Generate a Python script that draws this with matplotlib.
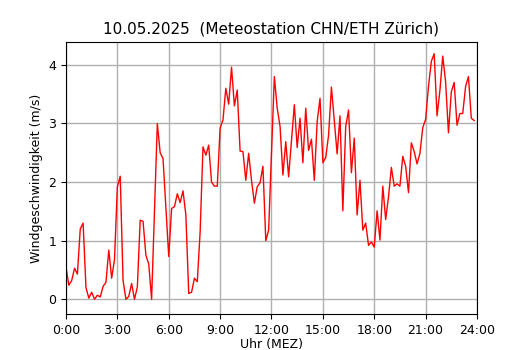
import matplotlib
matplotlib.use('Agg')
import matplotlib.pyplot as plt
import numpy as np

# wind speed (m/s), 10-minute values from 0:00 to 23:50
wind = [
    0.55, 0.24, 0.32, 0.53, 0.43, 1.20, 1.30, 0.20, 0.02, 0.12, 0.00, 0.07,
    0.04, 0.22, 0.29, 0.84, 0.36, 0.68, 1.92, 2.10, 0.32, 0.00, 0.05, 0.27,
    0.00, 0.21, 1.35, 1.33, 0.75, 0.60, 0.00, 1.50, 3.00, 2.50, 2.40, 1.55,
    0.73, 1.55, 1.58, 1.80, 1.65, 1.85, 1.44, 0.10, 0.12, 0.36, 0.30, 1.15,
    2.60, 2.46, 2.63, 2.00, 1.93, 1.93, 2.92, 3.06, 3.60, 3.33, 3.96, 3.30,
    3.57, 2.53, 2.52, 2.03, 2.49, 2.03, 1.64, 1.92, 1.99, 2.27, 1.00, 1.18,
    2.50, 3.80, 3.26, 2.95, 2.12, 2.69, 2.09, 2.70, 3.32, 2.59, 3.09, 2.33,
    3.26, 2.54, 2.73, 2.03, 3.03, 3.43, 2.33, 2.42, 2.80, 3.62, 3.06, 2.48,
    3.13, 1.51, 2.95, 3.23, 2.16, 2.75, 1.44, 2.03, 1.18, 1.30, 0.92, 0.98,
    0.89, 1.51, 1.01, 1.93, 1.36, 1.75, 2.25, 1.93, 1.97, 1.93, 2.44, 2.27,
    1.82, 2.67, 2.52, 2.31, 2.49, 2.93, 3.07, 3.63, 4.06, 4.19, 3.13, 3.56,
    4.15, 3.71, 2.84, 3.54, 3.70, 2.97, 3.17, 3.17, 3.63, 3.80, 3.09, 3.05,
]
hours = np.arange(len(wind)) / 6.0

tick_hours = np.arange(0, 25, 3)
tick_labels = ['%d:00' % h for h in tick_hours]

fig = plt.figure(figsize=(5.3, 3.5), dpi=100)
ax = fig.add_axes([0.1245, 0.103, 0.7755, 0.777])
ax.plot(hours, wind, color='red', linewidth=1)
ax.set_xlim(0, 24)
ax.set_ylim(-0.25, 4.39)
ax.set_xticks(tick_hours)
ax.set_xticklabels(tick_labels)
ax.set_yticks([0, 1, 2, 3, 4])
ax.grid(True, color='#b0b0b0', linewidth=1)
ax.set_axisbelow(True)
ax.set_title('10.05.2025  (Meteostation CHN/ETH Zürich)', fontsize=11)
ax.set_xlabel('Uhr (MEZ)', fontsize=9, labelpad=1)
ax.set_ylabel('Windgeschwindigkeit (m/s)', fontsize=9)
for lab in ax.get_xticklabels() + ax.get_yticklabels():
    lab.set_fontsize(9)

plt.savefig('out.png', dpi=100)
